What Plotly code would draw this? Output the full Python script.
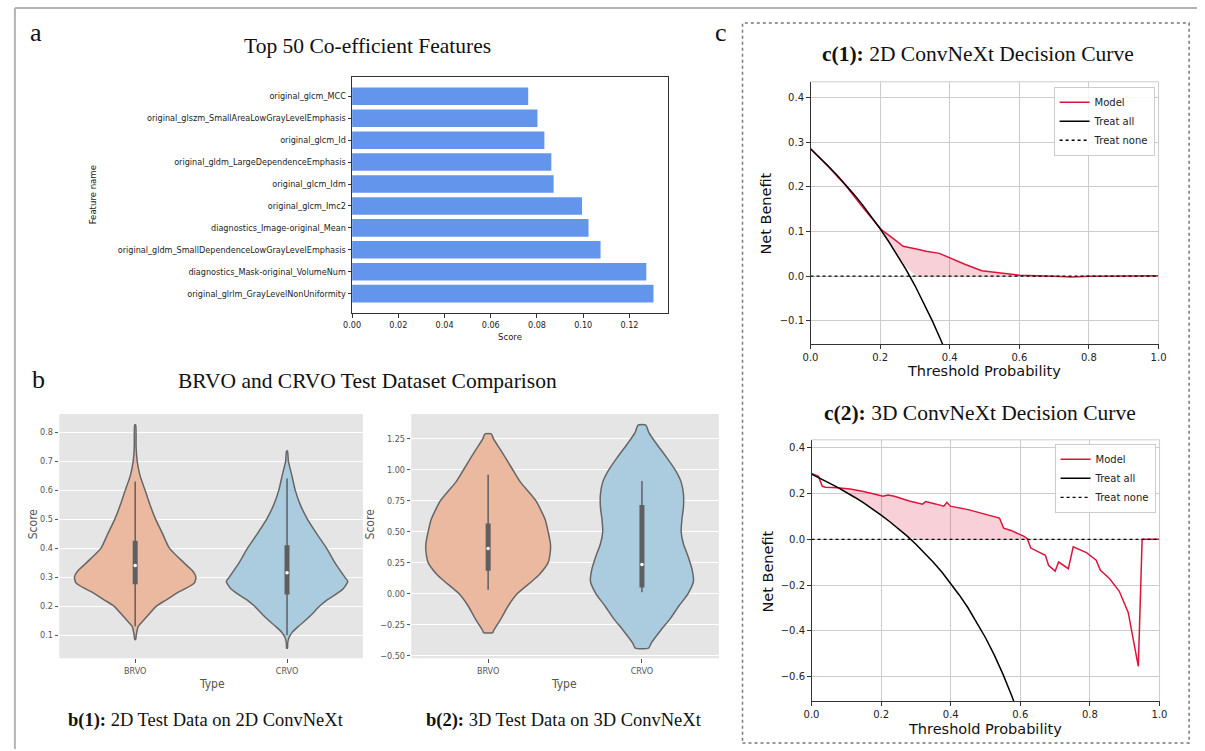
import plotly.graph_objects as go
import numpy as np

W, H = 1205, 751
def px(x): return x / W
def py(y): return 1 - y / H

# ---------------- Panel a data ----------------
features = ["original_glrlm_GrayLevelNonUniformity", "diagnostics_Mask-original_VolumeNum",
            "original_gldm_SmallDependenceLowGrayLevelEmphasis", "diagnostics_Image-original_Mean",
            "original_glcm_Imc2", "original_glcm_Idm", "original_gldm_LargeDependenceEmphasis",
            "original_glcm_Id", "original_glszm_SmallAreaLowGrayLevelEmphasis", "original_glcm_MCC"]
feature_scores = [0.1304, 0.1273, 0.1075, 0.1023, 0.0995, 0.0872, 0.0862, 0.0832, 0.0802, 0.0762]
score_ticks = [0.00, 0.02, 0.04, 0.06, 0.08, 0.10, 0.12]

# ---------------- Panel b data (violin outlines: value, half-width) ----------------
types = ["BRVO", "CRVO"]
b1_brvo_val = [0.085, 0.10, 0.13, 0.15, 0.20, 0.22, 0.25, 0.26, 0.28, 0.30, 0.32, 0.35, 0.40, 0.45, 0.50, 0.55, 0.60, 0.65, 0.70, 0.75, 0.825]
b1_brvo_hw = [0.003, 0.007, 0.02, 0.054, 0.14, 0.20, 0.29, 0.33, 0.39, 0.40, 0.38, 0.32, 0.225, 0.18, 0.134, 0.097, 0.065, 0.032, 0.013, 0.006, 0.003]
b1_crvo_val = [0.055, 0.07, 0.09, 0.11, 0.13, 0.15, 0.17, 0.20, 0.22, 0.24, 0.26, 0.285, 0.30, 0.35, 0.40, 0.45, 0.50, 0.55, 0.60, 0.65, 0.70, 0.735]
b1_crvo_hw = [0.003, 0.004, 0.012, 0.035, 0.075, 0.12, 0.16, 0.215, 0.26, 0.32, 0.37, 0.40, 0.38, 0.315, 0.26, 0.195, 0.134, 0.087, 0.054, 0.032, 0.009, 0.003]
b1_box = {"BRVO": [0.13, 0.275, 0.34, 0.425, 0.63], "CRVO": [0.10, 0.24, 0.315, 0.41, 0.64]}

b2_brvo_val = [-0.315, -0.30, -0.25, -0.20, -0.10, 0.0, 0.10, 0.15, 0.25, 0.35, 0.40, 0.50, 0.60, 0.75, 0.90, 1.00, 1.15, 1.25, 1.29]
b2_brvo_hw = [0.03, 0.035, 0.06, 0.085, 0.13, 0.19, 0.285, 0.33, 0.39, 0.405, 0.405, 0.39, 0.37, 0.31, 0.21, 0.16, 0.086, 0.035, 0.02]
b2_crvo_val = [-0.44, -0.40, -0.30, -0.20, -0.10, 0.0, 0.10, 0.20, 0.30, 0.40, 0.50, 0.60, 0.70, 0.80, 0.90, 1.00, 1.10, 1.20, 1.30, 1.36]
b2_crvo_hw = [0.043, 0.06, 0.12, 0.185, 0.24, 0.30, 0.335, 0.325, 0.30, 0.27, 0.255, 0.26, 0.27, 0.27, 0.255, 0.215, 0.16, 0.10, 0.045, 0.025]
b2_box = {"BRVO": [0.03, 0.185, 0.365, 0.565, 0.96], "CRVO": [0.01, 0.05, 0.235, 0.715, 0.91]}

b1_yticks = [0.1, 0.2, 0.3, 0.4, 0.5, 0.6, 0.7, 0.8]
b2_yticks = [-0.50, -0.25, 0.0, 0.25, 0.50, 0.75, 1.00, 1.25]

# ---------------- Panel c data ----------------
c1_all_thr = [0, 0.025, 0.05, 0.075, 0.1, 0.125, 0.15, 0.175, 0.2, 0.225, 0.25, 0.275, 0.3, 0.325, 0.35, 0.375, 0.39]
c1_all_nb = [0.285, 0.267, 0.247, 0.227, 0.206, 0.183, 0.159, 0.133, 0.106, 0.077, 0.047, 0.014, -0.021, -0.059, -0.100, -0.144, -0.172]
c1_model_thr = [0, 0.05, 0.1, 0.15, 0.2, 0.21, 0.238, 0.266, 0.304, 0.332, 0.37, 0.398, 0.445, 0.492, 0.54, 0.6, 0.7, 0.75, 0.8, 0.9, 1.0]
c1_model_nb = [0.285, 0.246, 0.204, 0.154, 0.107, 0.100, 0.084, 0.067, 0.061, 0.056, 0.051, 0.041, 0.026, 0.012, 0.008, 0.002, 0.0, -0.002, 0.0, 0.001, 0.001]

c2_all_thr = [0, 0.025, 0.05, 0.075, 0.1, 0.125, 0.15, 0.175, 0.2, 0.225, 0.25, 0.275, 0.3, 0.325, 0.35, 0.375,
              0.4, 0.425, 0.45, 0.475, 0.5, 0.525, 0.55, 0.575, 0.59]
c2_all_nb = [0.285, 0.267, 0.247, 0.227, 0.206, 0.183, 0.159, 0.133, 0.106, 0.077, 0.047, 0.014, -0.021, -0.059, -0.100, -0.144,
             -0.192, -0.244, -0.300, -0.362, -0.430, -0.505, -0.589, -0.682, -0.744]
c2_model_thr = [0, 0.02, 0.031, 0.04, 0.074, 0.111, 0.149, 0.16, 0.177, 0.205, 0.22, 0.238, 0.281, 0.319, 0.328, 0.356, 0.38, 0.389,
                0.399, 0.45, 0.498, 0.54, 0.552, 0.573, 0.611, 0.62, 0.63, 0.672, 0.681, 0.70, 0.71, 0.738, 0.752, 0.79, 0.818,
                0.83, 0.856, 0.884, 0.91, 0.939, 0.95, 1.0]
c2_model_nb = [0.288, 0.275, 0.232, 0.228, 0.226, 0.22, 0.209, 0.206, 0.199, 0.188, 0.194, 0.188, 0.168, 0.154, 0.165, 0.155, 0.145, 0.162,
               0.145, 0.130, 0.112, 0.093, 0.049, 0.039, 0.013, 0.003, -0.038, -0.07, -0.113, -0.139, -0.099, -0.128, -0.033, -0.058, -0.091,
               -0.135, -0.171, -0.226, -0.319, -0.555, 0.0, 0.0]

c1_yticks = [-0.1, 0.0, 0.1, 0.2, 0.3, 0.4]
c2_yticks = [-0.6, -0.4, -0.2, 0.0, 0.2, 0.4]
c_xticks = [0.0, 0.2, 0.4, 0.6, 0.8, 1.0]

# ---------------- styles ----------------
SERIF = "Liberation Serif, Times New Roman, serif"
SANS = "DejaVu Sans, sans-serif"
COND = "DejaVu Sans Condensed, DejaVu Sans, sans-serif"
RED = "#DC143C"
VCOL = {"BRVO": "#EBB9A0", "CRVO": "#ABCCDE"}

def mfmt(v, nd):
    s = f"{v:.{nd}f}"
    return s.replace("-", "\u2212")

fig = go.Figure()

# ---- Panel a: bars ----
fig.add_trace(go.Bar(y=list(range(len(features))), x=feature_scores, orientation="h", width=0.8,
                     marker=dict(color="#6495ED", line=dict(width=0)), xaxis="x", yaxis="y", showlegend=False))

# ---- Panel b violins ----
def add_violin(vals, hws, cat_idx, color, xa, ya):
    vals = list(vals); hws = list(hws)
    xs = [cat_idx + w for w in hws] + [cat_idx - w for w in hws[::-1]] + [cat_idx + hws[0]]
    ys = vals + vals[::-1] + [vals[0]]
    fig.add_trace(go.Scatter(x=xs, y=ys, mode="lines", fill="toself", fillcolor=color,
                             line=dict(color="#666666", width=1.5, shape="spline", smoothing=0.6),
                             xaxis=xa, yaxis=ya, showlegend=False, hoverinfo="skip"))

def add_box(stats, cat_idx, xa, ya):
    lo, q1, med, q3, hi = stats
    fig.add_trace(go.Scatter(x=[cat_idx, cat_idx], y=[lo, hi], mode="lines", line=dict(color="#5f5f5f", width=1.5),
                             xaxis=xa, yaxis=ya, showlegend=False, hoverinfo="skip"))
    fig.add_trace(go.Scatter(x=[cat_idx, cat_idx], y=[q1, q3], mode="lines", line=dict(color="#5f5f5f", width=5),
                             xaxis=xa, yaxis=ya, showlegend=False, hoverinfo="skip"))
    fig.add_trace(go.Scatter(x=[cat_idx], y=[med], mode="markers", marker=dict(color="white", size=3.5),
                             xaxis=xa, yaxis=ya, showlegend=False, hoverinfo="skip"))

add_violin(b1_brvo_val, b1_brvo_hw, 0, VCOL["BRVO"], "x2", "y2")
add_violin(b1_crvo_val, b1_crvo_hw, 1, VCOL["CRVO"], "x2", "y2")
add_box(b1_box["BRVO"], 0, "x2", "y2")
add_box(b1_box["CRVO"], 1, "x2", "y2")
add_violin(b2_brvo_val, b2_brvo_hw, 0, VCOL["BRVO"], "x3", "y3")
add_violin(b2_crvo_val, b2_crvo_hw, 1, VCOL["CRVO"], "x3", "y3")
add_box(b2_box["BRVO"], 0, "x3", "y3")
add_box(b2_box["CRVO"], 1, "x3", "y3")

# ---- Panel c decision curves ----
def add_dca(all_thr, all_nb, m_thr, m_nb, xa, ya, legend):
    m_thr = np.array(m_thr); m_nb = np.array(m_nb)
    lower = np.maximum(np.interp(m_thr, all_thr, all_nb), 0.0)
    upper = np.maximum(m_nb, lower)
    fig.add_trace(go.Scatter(x=m_thr, y=lower, mode="lines", line=dict(width=0), xaxis=xa, yaxis=ya,
                             showlegend=False, hoverinfo="skip"))
    fig.add_trace(go.Scatter(x=m_thr, y=upper, mode="lines", line=dict(width=0), fill="tonexty",
                             fillcolor="rgba(220,20,60,0.2)", xaxis=xa, yaxis=ya, showlegend=False, hoverinfo="skip"))
    fig.add_trace(go.Scatter(x=m_thr, y=m_nb, mode="lines", name="Model", line=dict(color=RED, width=1.5),
                             xaxis=xa, yaxis=ya, legend=legend))
    fig.add_trace(go.Scatter(x=all_thr, y=all_nb, mode="lines", name="Treat all", line=dict(color="black", width=1.5),
                             xaxis=xa, yaxis=ya, legend=legend))
    fig.add_trace(go.Scatter(x=[0, 1], y=[0, 0], mode="lines", name="Treat none",
                             line=dict(color="black", width=1.3, dash="dot"), xaxis=xa, yaxis=ya, legend=legend))

add_dca(c1_all_thr, c1_all_nb, c1_model_thr, c1_model_nb, "x4", "y4", "legend")
add_dca(c2_all_thr, c2_all_nb, c2_model_thr, c2_model_nb, "x5", "y5", "legend2")

# ---------------- axes ----------------
tickfont_a = dict(family=COND, size=9, color="#222")
fig.update_layout(
    xaxis=dict(domain=[px(348), px(668)], anchor="y", range=[0, 0.1365], tickvals=score_ticks,
               ticktext=[f"{v:.2f}" for v in score_ticks], showgrid=False, zeroline=False, showline=True,
               mirror=True, linecolor="#333", linewidth=1, ticks="outside", ticklen=3.5, tickcolor="#333",
               tickfont=tickfont_a),
    yaxis=dict(domain=[py(314), py(77)], anchor="x", range=[-0.89, 9.89], tickvals=list(range(len(features))),
               ticktext=features, showgrid=False, zeroline=False, showline=True, mirror=True, linecolor="#333",
               linewidth=1, ticks="outside", ticklen=3.5, tickcolor="#333", tickfont=tickfont_a),
)

tickfont_b = dict(family=COND, size=9, color="#555")
for xa, ya, xd, yr, yt, nd in [("xaxis2", "yaxis2", [51, 359], [0.02, 0.863], b1_yticks, 1),
                                ("xaxis3", "yaxis3", [408, 720], [-0.522, 1.451], b2_yticks, 2)]:
    n = xa[-1]
    fig.update_layout({
        xa: dict(domain=[px(xd[0]), px(xd[1])], anchor="y" + n, range=[-0.5, 1.5], tickvals=[0, 1], ticktext=types,
                 showgrid=False, zeroline=False, showline=False, ticks="outside", ticklen=3.5, tickcolor="#555",
                 tickfont=tickfont_b),
        ya: dict(domain=[py(660), py(415)], anchor="x" + n, range=yr, tickvals=yt,
                 ticktext=[mfmt(v, nd) for v in yt], showgrid=True, gridcolor="white", gridwidth=1.2,
                 zeroline=False, showline=False, ticks="outside", ticklen=3.5, tickcolor="#555",
                 tickfont=tickfont_b),
    })

tickfont_c = dict(family=SANS, size=10, color="#222")
for n, xd, yd, yr, yt in [("4", [813, 1166], [345, 82], [-0.152, 0.435], c1_yticks),
                           ("5", [814, 1167], [703, 441], [-0.707, 0.435], c2_yticks)]:
    fig.update_layout({
        "xaxis" + n: dict(domain=[px(xd[0]), px(xd[1])], anchor="y" + n, range=[0, 1], tickvals=c_xticks,
                          ticktext=[f"{v:.1f}" for v in c_xticks], showgrid=True, gridcolor="#cccccc", gridwidth=1,
                          zeroline=False, showline=True, linecolor="#333", linewidth=1, ticks="outside",
                          ticklen=3.5, tickcolor="#333", tickfont=tickfont_c),
        "yaxis" + n: dict(domain=[py(yd[0]), py(yd[1])], anchor="x" + n, range=yr, tickvals=yt,
                          ticktext=[mfmt(v, 1) for v in yt], showgrid=True, gridcolor="#cccccc", gridwidth=1,
                          zeroline=False, showline=True, linecolor="#333", linewidth=1, ticks="outside",
                          ticklen=3.5, tickcolor="#333", tickfont=tickfont_c),
    })

# ---------------- shapes ----------------
shapes = [
    dict(type="line", xref="paper", yref="paper", x0=px(6), x1=1, y0=py(8), y1=py(8), line=dict(color="#b4b4b4", width=2)),
    dict(type="line", xref="paper", yref="paper", x0=px(6), x1=px(6), y0=py(8), y1=0, line=dict(color="#b4b4b4", width=2)),
    dict(type="rect", xref="paper", yref="paper", x0=px(744), x1=px(1197), y0=py(745), y1=py(23),
         line=dict(color="#777", width=1.5, dash="dot")),
]
for n in ["2", "3"]:
    shapes.append(dict(type="rect", xref=f"x{n} domain", yref=f"y{n} domain", x0=0, x1=1, y0=0, y1=1,
                       fillcolor="#E5E5E5", line=dict(width=0), layer="below"))
for n in ["4", "5"]:
    shapes.append(dict(type="line", xref=f"x{n} domain", yref=f"y{n} domain", x0=0, x1=1, y0=1, y1=1,
                       line=dict(color="#cccccc", width=1)))
    shapes.append(dict(type="line", xref=f"x{n} domain", yref=f"y{n} domain", x0=1, x1=1, y0=0, y1=1,
                       line=dict(color="#cccccc", width=1)))
fig.update_layout(shapes=shapes)

# ---------------- annotations ----------------
def ann(x, y, text, size, family=SERIF, color="#111", angle=0):
    return dict(x=px(x), y=py(y), xref="paper", yref="paper", text=text, showarrow=False,
                xanchor="center", yanchor="middle", textangle=angle, font=dict(family=family, size=size, color=color))

annotations = [
    ann(27, 33, "a", 26), ann(30, 381, "b", 26), ann(722, 33, "c", 26),
    ann(364, 46, "Top 50 Co-efficient Features", 21.5),
    ann(364, 382, "BRVO and CRVO Test Dataset Comparison", 21.5),
    ann(200, 722, "<b>b(1):</b> 2D Test Data on 2D ConvNeXt", 18.5),
    ann(563, 722, "<b>b(2):</b> 3D Test Data on 3D ConvNeXt", 18.5),
    ann(983, 54, "<b>c(1):</b> 2D ConvNeXt Decision Curve", 21.5),
    ann(985, 414, "<b>c(2):</b> 3D ConvNeXt Decision Curve", 21.5),
    ann(85, 195, "Feature name", 9.5, COND, "#222", -90),
    ann(508, 337, "Score", 9.5, COND, "#222"),
    ann(24, 525, "Score", 12, COND, "#555", -90),
    ann(206, 686, "Type", 12, COND, "#555"),
    ann(366, 525, "Score", 12, COND, "#555", -90),
    ann(563, 686, "Type", 12, COND, "#555"),
    ann(768, 214, "Net Benefit", 14.5, SANS, "#111", -90),
    ann(989, 372, "Threshold Probability", 14.5, SANS, "#111"),
    ann(770, 573, "Net Benefit", 14.5, SANS, "#111", -90),
    ann(990, 731, "Threshold Probability", 14.5, SANS, "#111"),
]
fig.update_layout(annotations=annotations)

legend_style = dict(font=dict(family=SANS, size=10, color="#222"), bgcolor="rgba(255,255,255,0.85)",
                    bordercolor="#cccccc", borderwidth=1, xanchor="right", yanchor="top", itemwidth=30,
                    tracegroupgap=0, traceorder="normal")
fig.update_layout(
    legend=dict(x=px(1162), y=py(87), **legend_style),
    legend2=dict(x=px(1163), y=py(445), **legend_style),
)

fig.update_layout(width=W, height=H, margin=dict(l=0, r=0, t=0, b=0), paper_bgcolor="white",
                  plot_bgcolor="rgba(0,0,0,0)", showlegend=True, bargap=0.2)

fig.write_html("out.html", config={"displayModeBar": False},
               post_script="document.body.style.margin='0';document.body.style.overflow='hidden';")
